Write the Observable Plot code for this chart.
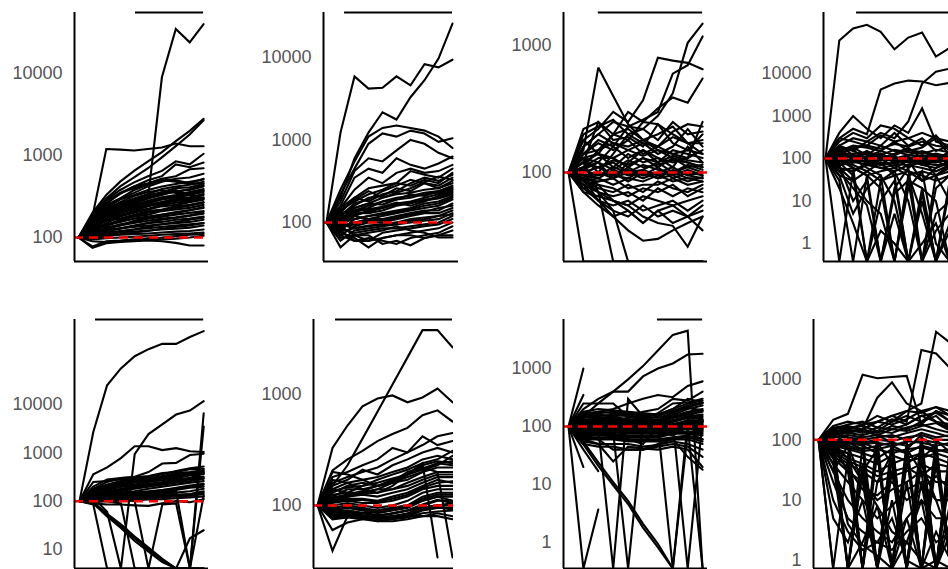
<!DOCTYPE html>
<html>
<head>
<meta charset="utf-8">
<script src="https://cdn.jsdelivr.net/npm/d3@7"></script>
<script src="https://cdn.jsdelivr.net/npm/@observablehq/plot@0.6"></script>
<style>
  html, body { margin: 0; padding: 0; background: #fff; overflow: hidden; }
  #wrap { position: relative; width: 948px; height: 569px; overflow: hidden; background: #fff; }
  #wrap svg { position: absolute; overflow: visible; }
</style>
</head>
<body>
<div id="wrap"></div>
<script>
// ---------- DATA (0 = drops below the axis, null = no value) ----------
const p1Series = [
  [100,150,210,240,260,300,9000,35000,24000,40000],
  [100,180,1200,1180,1150,1200,1250,1400,1300,1300],
  [100,200,330,480,650,850,1100,1500,2000,2800],
  [100,190,300,420,540,700,950,1300,1800,2700],
  [100,180,290,380,470,560,650,850,780,1050],
  [100,170,260,340,420,500,560,780,720,820],
  [100,175,280,350,400,450,520,560,680,700],
  [100,160,250,300,350,420,480,520,540,600],
  [100,165,230,290,330,380,420,450,480,510],
  [100,150,220,260,300,340,390,420,440,480],
  [100,160,210,250,290,320,360,400,410,450],
  [100,140,200,240,270,300,330,370,380,420],
  [100,150,190,230,250,280,310,330,360,390],
  [100,130,180,210,240,260,290,310,330,360],
  [100,145,170,200,230,250,270,300,310,340],
  [100,135,165,190,210,240,260,280,290,310],
  [100,125,150,180,200,220,240,250,270,290],
  [100,140,160,170,190,210,220,240,250,270],
  [100,120,145,160,180,190,210,220,230,250],
  [100,130,140,155,170,180,190,200,215,230],
  [100,115,130,145,155,170,180,190,200,210],
  [100,125,135,140,150,160,170,175,185,195],
  [100,110,120,130,140,150,155,165,170,180],
  [100,120,125,130,135,140,145,150,155,165],
  [100,105,115,120,125,130,135,140,145,150],
  [100,110,110,115,118,122,125,128,132,140],
  [100,100,105,108,110,112,115,118,120,125],
  [100,95,98,100,102,105,108,110,112,115],
  [100,78,90,92,95,98,100,104,108,110],
  [100,75,85,88,90,92,90,86,80,80],
  [100,90,88,90,92,95,95,97,100,105],
  [100,170,240,300,380,440,500,480,450,460],
  [100,180,260,350,420,460,520,500,460,520],
  [100,160,220,270,320,360,380,350,340,370],
  [100,150,200,240,290,330,350,380,330,300],
  [100,155,200,250,280,310,340,360,390,430],
  [100,145,185,220,250,270,300,320,350,380],
  [100,135,175,200,220,245,270,290,300,330],
  [100,128,160,185,205,225,250,265,280,300],
  [100,118,140,165,185,200,215,230,245,265],
  [100,112,128,140,160,175,190,205,215,235],
  [100,108,120,128,138,150,165,175,185,205],
  [100,102,110,118,125,135,145,155,165,175],
  [100,98,104,110,115,120,128,135,140,150]
];
const p2Series = [
  [100,1230,5900,4200,4300,5900,4600,8300,7600,9400],
  [100,200,600,1230,2170,1770,3300,5300,9700,25800],
  [100,250,550,1100,1400,1500,1400,1300,1100,800],
  [100,220,450,900,1200,1100,1300,1200,950,1050],
  [100,180,420,600,550,750,1000,900,700,600],
  [100,160,350,450,400,600,500,450,520,630],
  [100,150,250,350,300,400,450,400,420,500],
  [100,130,200,260,280,300,420,380,350,450],
  [100,140,180,220,250,300,280,330,300,400],
  [100,120,160,200,210,260,240,300,280,350],
  [100,110,150,170,200,220,230,250,260,300],
  [100,130,140,160,180,200,210,230,240,280],
  [100,90,120,140,150,170,180,200,220,250],
  [100,110,130,130,140,160,170,190,200,230],
  [100,80,110,120,130,140,150,170,180,210],
  [100,100,120,110,120,130,140,150,160,190],
  [100,90,100,110,110,120,130,140,140,170],
  [100,70,90,100,100,110,120,130,130,150],
  [100,95,85,90,95,100,110,115,120,140],
  [100,60,80,85,90,95,100,105,110,130],
  [100,85,75,80,85,85,90,95,100,120],
  [100,50,70,60,75,80,85,90,95,110],
  [100,75,65,50,65,70,75,80,85,100],
  [100,80,60,65,60,55,65,70,75,90],
  [100,65,70,70,55,60,53,65,70,80],
  [100,70,60,60,65,70,70,65,70,70],
  [100,90,70,75,80,90,80,75,66,66],
  [100,150,200,180,220,240,300,350,320,380],
  [100,120,170,190,240,280,330,300,260,320],
  [100,140,190,240,200,230,260,310,360,330],
  [100,110,140,150,180,190,220,210,240,270],
  [100,105,125,135,150,165,175,185,195,220],
  [100,125,150,170,165,190,200,220,230,260],
  [100,115,135,145,155,175,160,180,210,240],
  [100,98,110,120,125,135,145,160,170,200],
  [100,88,95,105,105,115,125,135,150,160],
  [100,78,85,92,95,100,105,110,120,125]
];
const p3Series = [
  [100,0,0,0,0,0,0,0,0,0],
  [100,120,70,0,0,0,0,0,0,0],
  [100,90,60,50,0,0,0,0,0,0],
  [100,150,670,400,240,180,150,130,120,110],
  [100,180,220,300,250,370,800,760,730,650],
  [100,160,200,250,230,220,280,420,1050,1490],
  [100,140,180,160,230,260,300,600,700,1180],
  [100,120,250,200,300,250,320,390,355,550],
  [100,200,230,260,200,220,180,250,200,210],
  [100,220,250,180,190,160,240,170,150,200],
  [100,180,140,200,220,180,200,230,170,180],
  [100,160,200,170,150,170,140,160,220,160],
  [100,140,170,150,180,140,160,140,130,150],
  [100,130,120,160,130,150,120,150,140,130],
  [100,120,140,110,140,120,130,110,160,120],
  [100,110,130,130,110,130,110,130,110,115],
  [100,100,110,120,100,105,120,100,115,105],
  [100,95,100,90,110,95,100,110,95,100],
  [100,90,95,100,85,100,90,95,105,95],
  [100,85,90,80,90,85,95,85,90,90],
  [100,80,85,90,75,80,80,90,80,85],
  [100,90,75,70,80,70,85,75,70,80],
  [100,75,80,75,65,75,70,80,65,75],
  [100,80,70,65,70,60,75,65,75,70],
  [100,70,65,60,55,65,60,55,60,65],
  [100,75,60,55,60,50,55,60,50,60],
  [100,85,70,50,45,55,45,50,45,55],
  [100,70,55,45,50,40,50,40,45,50],
  [100,80,60,45,35,29,30,35,40,45],
  [100,90,70,60,55,45,40,38,26,45],
  [100,95,80,60,50,40,50,55,45,35],
  [100,110,150,200,180,250,240,200,170,140],
  [100,130,100,140,200,170,160,210,240,230],
  [100,105,120,90,120,150,130,120,130,250],
  [100,120,110,125,115,130,120,135,125,120],
  [100,110,120,105,125,110,115,125,120,110],
  [100,105,95,110,100,115,105,100,110,100],
  [100,100,110,95,105,95,110,90,100,95],
  [100,95,90,105,95,100,90,105,95,90],
  [100,90,100,95,90,105,95,100,90,85],
  [100,88,85,90,100,90,100,95,85,92],
  [100,130,140,130,150,135,150,140,150,140],
  [100,140,150,170,160,180,160,190,170,170]
];
const p4Series = [
  [100,60000,115000,140000,95000,37000,70000,92000,25000,40000],
  [100,300,500,370,4200,5800,6800,6500,5300,6000],
  [100,200,300,250,400,300,740,5800,11000,13000],
  [100,400,1000,500,300,600,400,1500,250,200],
  [100,250,400,300,600,500,300,200,350,150],
  [100,200,150,250,200,400,200,300,150,200],
  [100,150,200,180,150,250,150,180,300,120],
  [100,120,180,120,200,150,120,150,120,100],
  [100,130,100,150,100,130,180,100,90,150],
  [100,90,120,100,130,90,100,120,100,80],
  [100,80,100,80,90,110,80,90,80,110],
  [100,70,80,90,70,80,90,70,60,90],
  [100,60,50,70,60,50,70,60,50,70],
  [100,50,60,40,50,60,40,50,40,60],
  [100,40,30,50,30,40,50,30,40,50],
  [100,0,50,80,60,70,50,40,30,40],
  [100,30,0,40,20,0,30,20,0,30],
  [100,20,3,0,10,30,0,15,0,20],
  [100,50,20,8,0,20,60,0,5,10],
  [100,70,10,30,0,5,0,20,10,0],
  [100,80,40,0,30,50,10,0,2,5],
  [100,60,30,10,5,0,40,5,0,2],
  [100,40,5,20,40,10,0,1,3,0],
  [100,90,60,40,0,15,30,0,40,10],
  [100,120,60,0,2,1,0,10,0,3],
  [100,150,100,60,40,0,20,50,1,0],
  [100,110,70,50,80,40,0,0,20,40],
  [100,200,120,80,100,60,90,30,60,80],
  [100,180,90,150,70,120,60,100,40,70],
  [100,140,160,90,130,80,110,70,90,60],
  [100,110,130,140,120,160,140,130,160,140],
  [100,140,120,110,150,120,160,140,110,130],
  [100,100,110,130,110,100,120,110,130,110],
  [100,95,90,110,120,100,90,100,110,95],
  [100,85,95,85,100,85,100,80,90,85],
  [100,75,85,70,80,75,70,80,70,75],
  [100,160,180,200,170,220,190,250,200,180],
  [100,300,250,200,350,250,300,400,300,250]
];
const p5Series = [
  [100,2700,25000,56000,100000,140000,180000,180000,250000,330000],
  [100,120,60,0,940,2450,3900,6200,7500,11700],
  [100,360,500,780,1370,1370,1140,1250,1080,1040],
  [100,180,250,300,320,400,600,620,900,960],
  [100,250,260,280,300,320,360,420,480,520],
  [100,200,280,300,310,330,380,400,460,470],
  [100,180,220,260,280,300,330,380,400,440],
  [100,160,200,230,260,280,300,330,360,400],
  [100,150,180,200,220,250,270,300,340,360],
  [100,140,160,180,200,220,240,270,300,320],
  [100,130,150,160,180,200,220,240,260,290],
  [100,120,140,150,160,180,200,220,240,260],
  [100,125,130,140,150,160,170,190,210,230],
  [100,115,120,130,140,150,160,170,190,200],
  [100,110,115,120,130,135,140,150,160,180],
  [100,105,110,115,120,125,130,135,140,160],
  [100,100,105,108,110,115,120,125,130,140],
  [100,95,100,102,105,108,110,115,120,125],
  [100,90,85,85,82,80,90,100,95,110],
  [100,95,55,33,18.5,11,6.4,4,0,0],
  [100,93,52,30,17,10,6,3.8,0,0],
  [100,90,48,28,15,9,5.5,3.5,0,0],
  [100,85,0,0,0,0,0,0,17,25],
  [100,105,100,90,0,0,0,0,0,6600],
  [100,110,120,110,100,0,85,90,0,3500],
  [100,120,130,125,130,140,150,160,0,130],
  [100,130,170,200,210,230,250,280,300,380],
  [100,170,210,240,270,290,320,350,380,420],
  [100,150,190,215,240,265,290,320,350,380],
  [100,135,155,170,190,210,230,255,280,300],
  [100,112,125,135,145,155,170,180,200,220],
  [100,102,108,112,118,122,128,132,138,150]
];
const p6Series = [
  [100,150,230,400,700,1230,2160,3800,3800,2660],
  [100,330,525,780,920,980,850,940,1130,850],
  [100,207,260,310,380,440,500,650,720,570],
  [100,180,200,230,260,330,300,350,420,450],
  [100,160,180,200,220,260,300,420,350,380],
  [100,150,170,210,190,230,260,300,330,300],
  [100,140,160,170,180,200,220,260,280,260],
  [100,130,150,160,150,170,190,230,250,240],
  [100,120,140,140,150,160,170,200,220,220],
  [100,125,130,130,140,140,160,180,200,200],
  [100,115,120,125,120,130,140,160,180,180],
  [100,110,115,115,110,120,130,150,170,160],
  [100,105,110,105,105,110,120,140,150,150],
  [100,100,105,100,95,100,110,130,140,140],
  [100,95,100,95,90,95,100,120,130,130],
  [100,90,95,90,85,90,95,110,120,120],
  [100,88,90,85,80,85,90,100,110,110],
  [100,85,88,82,78,80,85,95,100,100],
  [100,80,85,80,75,78,80,90,95,95],
  [100,78,80,78,72,75,78,85,88,90],
  [100,80,82,80,76,76,80,80,85,80],
  [100,75,78,75,72,72,75,80,80,75],
  [100,39,80,85,90,95,100,110,120,110],
  [100,110,120,130,140,160,190,240,34,null],
  [100,115,125,135,150,165,200,220,200,34],
  [100,60,70,75,80,85,90,95,100,105],
  [100,200,190,170,150,160,180,200,240,230],
  [100,140,130,150,170,190,210,240,260,310],
  [100,170,160,140,130,150,190,210,230,280],
  [100,135,145,150,160,175,190,215,240,250],
  [100,118,125,128,130,140,150,170,190,190],
  [100,108,112,112,108,115,125,145,160,165],
  [100,92,96,92,88,92,98,115,125,125],
  [100,86,90,86,82,84,90,102,112,105],
  [100,82,86,80,76,80,82,92,96,92]
];
const p7Series = [
  [100,150,250,400,650,1100,2050,3800,4500,0],
  [100,200,300,400,400,730,1000,1220,1740,1800],
  [100,150,180,200,250,300,350,320,500,600],
  [100,250,250,250,150,180,200,300,280,400],
  [100,1000,null,null,null,null,null,null,null,null],
  [100,350,null,null,null,null,null,null,null,null],
  [100,20,null,null,null,null,null,null,null,null],
  [100,40,17,null,null,null,null,null,null,null],
  [100,0,3.7,null,null,null,null,null,null,null],
  [100,49,21,9.7,4.6,1.8,0.82,0,80,60],
  [100,55,24,11,5.2,2.1,0.95,0,null,null],
  [100,80,90,0,300,150,120,100,130,120],
  [100,90,85,80,0,110,100,90,110,100],
  [100,70,60,70,60,50,100,0,120,90],
  [100,110,100,90,80,90,100,120,0,130],
  [100,95,100,110,100,90,80,70,100,0],
  [100,180,200,190,180,170,160,200,250,280],
  [100,160,170,180,170,150,140,170,220,250],
  [100,140,150,160,150,140,130,160,200,230],
  [100,130,140,140,130,130,120,150,180,200],
  [100,120,130,130,120,120,115,140,160,180],
  [100,115,120,120,115,110,110,130,150,160],
  [100,110,110,115,110,105,105,120,140,140],
  [100,105,105,110,105,100,100,110,125,130],
  [100,100,100,100,100,95,95,105,115,120],
  [100,95,95,95,95,90,90,100,110,110],
  [100,90,90,90,85,85,85,95,100,100],
  [100,85,85,85,80,80,80,90,95,95],
  [100,80,80,80,75,75,75,85,90,85],
  [100,75,75,75,70,70,70,80,80,80],
  [100,70,70,70,65,65,65,75,75,70],
  [100,65,65,65,60,60,60,65,70,60],
  [100,60,60,60,55,55,55,60,60,50],
  [100,55,50,50,50,45,48,55,50,40],
  [100,50,45,45,40,40,45,50,45,30],
  [100,60,50,25,45,42,40,45,40,20],
  [100,70,60,40,40,40,50,60,30,18],
  [100,130,120,130,140,150,160,200,300,260],
  [100,150,160,150,130,140,170,250,260,300],
  [100,125,135,135,125,125,118,145,170,190],
  [100,112,115,118,112,108,108,125,145,150],
  [100,102,102,105,102,98,98,108,120,125],
  [100,92,92,92,90,88,88,98,105,105],
  [100,82,82,82,78,78,78,88,92,90],
  [100,72,72,72,68,68,68,78,78,75],
  [100,62,62,62,58,58,58,62,65,55],
  [100,170,180,170,160,160,150,185,230,260],
  [100,150,140,150,160,130,120,180,210,190]
];
const p8Series = [
  [100,215,270,1200,1050,1100,1150,180,300,250],
  [100,140,130,150,200,250,200,3100,2700,1500],
  [100,120,150,180,200,250,300,400,6200,4000],
  [100,130,160,150,500,900,400,300,200,150],
  [100,160,170,150,200,180,220,300,350,250],
  [100,150,160,170,140,200,250,200,300,200],
  [100,140,150,130,160,150,180,250,200,180],
  [100,130,140,150,130,170,150,200,250,150],
  [100,120,130,120,140,130,160,180,150,130],
  [100,110,120,110,120,110,130,150,130,110],
  [100,100,100,90,100,95,110,120,100,100],
  [100,90,80,70,80,90,80,100,90,80],
  [100,80,70,60,50,70,60,80,70,60],
  [100,70,50,40,30,40,50,60,50,40],
  [100,60,40,30,20,25,30,40,30,30],
  [100,50,30,20,10,15,20,30,20,20],
  [100,40,20,10,5,8,15,20,10,10],
  [100,30,10,5,3,2,5,10,5,5],
  [100,20,5,3,2,1.5,3,5,2,3],
  [100,0,50,0,80,0,60,0,40,0],
  [100,60,0,40,0,50,0,70,0,30],
  [100,5,2,10,0,30,0,20,0,10],
  [100,90,0,80,60,0,90,0,50,0],
  [100,10,3,1.5,2,5,1,0,3,1],
  [100,80,30,0,20,60,0,100,0,5],
  [100,40,0,30,70,0,40,60,0,80],
  [100,70,60,0,90,40,0,50,80,0],
  [100,0,0,30,0,0,20,0,0,50],
  [100,110,0,2,8,0,5,0,1,0],
  [100,30,80,20,0,10,0,40,10,2],
  [100,50,4,1.8,1.2,0,2,10,0,3],
  [100,80,50,20,8,3,2,1,0,0],
  [100,120,90,70,0,100,0,80,60,0],
  [100,100,80,0,60,0,70,120,0,90],
  [100,90,100,110,0,80,90,0,100,60],
  [100,70,90,80,100,0,70,30,0,100],
  [100,130,110,0,120,90,0,110,70,0],
  [100,60,100,90,70,80,60,0,90,0],
  [100,150,180,200,160,220,180,250,280,200],
  [100,170,200,180,250,200,300,280,350,300],
  [100,125,135,140,120,150,140,170,190,140],
  [100,115,110,100,110,120,100,130,110,120],
  [100,95,90,85,90,80,95,90,80,90],
  [100,85,75,65,70,60,70,75,65,70],
  [100,75,60,50,40,55,45,50,60,50],
  [100,65,45,35,25,30,35,25,40,35],
  [100,55,35,15,12,20,10,15,25,15]
];

// y ranges, tick labels and top-bar spans (in time-step units) for each panel
const yRanges = [[51,55500],[33.7,35100],[19.9,1820],[0.377,272000],[4.04,575000],[27,4740],[0.356,7000],[0.736,9900]];
const tickSets = [[100,1000,10000],[100,1000,10000],[100,1000],[1,10,100,1000,10000],[10,100,1000,10000],[100,1000],[1,10,100,1000],[1,10,100,1000]];
const topBars = [[4.1,9],[1.29,9],[2,9],[2.25,9.5],[1.16,9],[1.2,9],[5.97,9],null];
const reference = 100;

// ---------- LAYOUT (frame pixels) ----------
const layout = [
  {L:74,  R:208, T:12,  B:261, x0:78,  step:13.9},
  {L:323, R:458, T:12,  B:261, x0:326, step:14},
  {L:563, R:707, T:12,  B:261, x0:568, step:14.9},
  {L:823, R:965, T:12,  B:261, x0:825, step:13.8},
  {L:74,  R:208, T:319, B:568, x0:79,  step:13.8},
  {L:313, R:453, T:319, B:568, x0:317, step:15},
  {L:563, R:707, T:319, B:568, x0:568, step:14.9},
  {L:813, R:965, T:319, B:568, x0:818, step:14.7}
];
const allSeries = [p1Series,p2Series,p3Series,p4Series,p5Series,p6Series,p7Series,p8Series];

const wrap = document.getElementById("wrap");
const PADL = 80, PAD = 6;

allSeries.forEach((series, k) => {
  const lay = layout[k];
  const [ymin, ymax] = yRanges[k];
  const xDomain = [(lay.L - lay.x0) / lay.step, (lay.R - lay.x0) / lay.step];
  const rows = series.flatMap((s, id) => s.map((v, i) => ({id, i, v})));
  const bar = topBars[k];
  const marks = [
    Plot.lineY(rows, {
      x: "i",
      y: d => d.v == null ? NaN : Math.max(d.v, ymin),
      z: "id",
      stroke: "black",
      strokeWidth: 2.1,
      strokeLinejoin: "miter",
      strokeMiterlimit: 3,
      clip: true
    }),
    Plot.ruleY([reference], {stroke: "#ff0000", strokeWidth: 2.5, strokeDasharray: "9,6"}),
    Plot.ruleX([xDomain[0]], {stroke: "black", strokeWidth: 2}),
    Plot.ruleY([ymin], {stroke: "black", strokeWidth: 2}),
    Plot.axisY({ticks: tickSets[k], tickSize: 0, tickPadding: 12, fontSize: 18, tickFormat: d => String(d), color: "#555"})
  ];
  if (bar) marks.push(Plot.ruleY([ymax], {x1: bar[0], x2: bar[1], stroke: "black", strokeWidth: 2}));
  const chart = Plot.plot({
    width: (lay.R - lay.L) + PADL + PAD,
    height: (lay.B - lay.T) + 2 * PAD,
    marginLeft: PADL, marginRight: PAD, marginTop: PAD, marginBottom: PAD,
    style: {fontFamily: "'Liberation Sans', Arial, sans-serif", background: "transparent", overflow: "visible"},
    x: {domain: xDomain, axis: null},
    y: {type: "log", domain: [ymin, ymax], axis: null},
    marks
  });
  chart.style.left = (lay.L - PADL) + "px";
  chart.style.top = (lay.T - PAD) + "px";
  wrap.appendChild(chart);
});
</script>
</body>
</html>
